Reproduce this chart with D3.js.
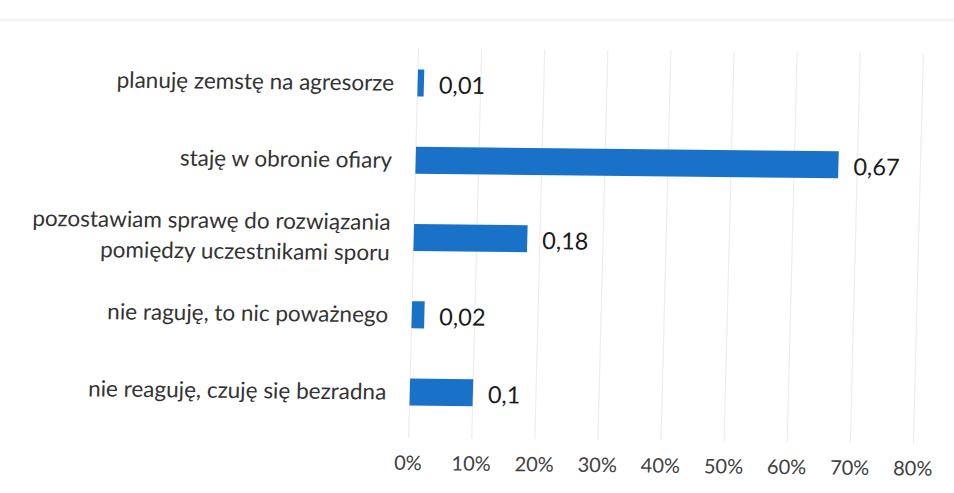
<!DOCTYPE html>
<html>
<head>
<meta charset="utf-8">
<script src="https://cdn.jsdelivr.net/npm/d3@7"></script>
<style>
  html, body { margin: 0; padding: 0; background: #fff; }
  svg { display: block; }
</style>
</head>
<body>
<script>
const categories = [
  "planuję zemstę na agresorze",
  "staję w obronie ofiary",
  "pozostawiam sprawę do rozwiązania\npomiędzy uczestnikami sporu",
  "nie raguję, to nic poważnego",
  "nie reaguję, czuję się bezradna"
];
const values = [0.01, 0.67, 0.18, 0.02, 0.1];
const ticks = [0, 0.1, 0.2, 0.3, 0.4, 0.5, 0.6, 0.7, 0.8];

const W = 954, H = 493;
const font = "Lato, 'Open Sans', sans-serif";
const barColor = "#1a72c8";

const svg = d3.select("body").append("svg")
  .attr("width", W).attr("height", H)
  .style("background", "#fff");

// faint scan edge at the top
svg.append("line")
  .attr("x1", 0).attr("x2", W).attr("y1", 20).attr("y2", 20)
  .attr("stroke", "#f3f3f3").attr("stroke-width", 3);

// the scanned page is slightly skewed
const g = svg.append("g")
  .attr("transform", "matrix(1 0.0107 -0.0254 1 6.25 -4.42)");

const x = d3.scaleLinear().domain([0, 0.8]).range([413.5, 918.3]);
const y = d3.scaleBand().domain(categories)
  .range([44.4, 430.6])
  .paddingInner(0.65).paddingOuter(0.325);

// gridlines
g.append("g").selectAll("line")
  .data(ticks).join("line")
  .attr("x1", d => x(d)).attr("x2", d => x(d))
  .attr("y1", 48).attr("y2", 438)
  .attr("stroke", "#ededed").attr("stroke-width", 1.2);

// tick labels
g.append("g").selectAll("text")
  .data(ticks).join("text")
  .attr("x", d => x(d)).attr("y", 463).attr("dy", "0.35em")
  .attr("text-anchor", "middle")
  .style("font-family", font).style("font-size", "20px").style("fill", "#404040")
  .text(d => d3.format(".0%")(d));

// bars
g.append("g").selectAll("rect")
  .data(values).join("rect")
  .attr("x", x(0))
  .attr("y", (d, i) => y(categories[i]))
  .attr("width", d => x(d) - x(0))
  .attr("height", y.bandwidth())
  .attr("fill", barColor);

// value labels
g.append("g").selectAll("text")
  .data(values).join("text")
  .attr("x", d => x(d) + 15)
  .attr("y", (d, i) => y(categories[i]) + y.bandwidth() / 2 + 2)
  .attr("dy", "0.35em")
  .style("font-family", font).style("font-size", "23.5px").style("fill", "#1a1a1a")
  .text(d => String(d).replace(".", ","));

// category labels
const cat = g.append("g").selectAll("text")
  .data(categories).join("text")
  .attr("x", 390)
  .attr("y", d => y(d) + y.bandwidth() / 2)
  .attr("text-anchor", "end")
  .style("font-family", font).style("font-size", "22.5px").style("fill", "#333");

cat.each(function (d) {
  const lines = d.split("\n");
  const t = d3.select(this);
  lines.forEach((ln, k) => {
    t.append("tspan")
      .attr("x", 390)
      .attr("dy", k === 0 ? `${0.35 - (lines.length - 1) * 0.68}em` : "1.36em")
      .text(ln);
  });
});
</script>
</body>
</html>
